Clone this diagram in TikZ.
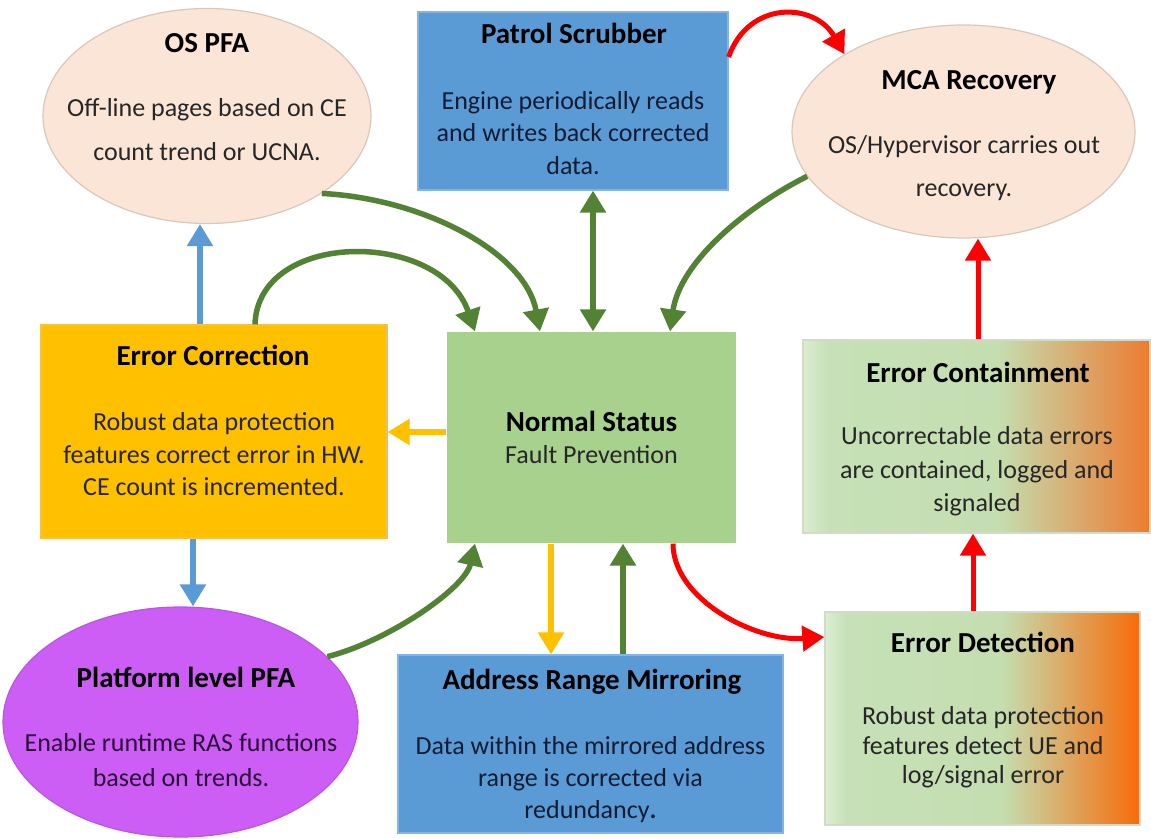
\documentclass[tikz,border=0pt]{standalone}
\usepackage{fontspec}
\setmainfont{Carlito}
\usetikzlibrary{shapes.geometric,arrows.meta}
\definecolor{peach}{HTML}{FBE5D6}
\definecolor{peachline}{HTML}{D8C8BB}
\definecolor{boxblue}{HTML}{5B9BD5}
\definecolor{boxblueline}{HTML}{86B4E2}
\definecolor{boxgold}{HTML}{FFC000}
\definecolor{boxgoldline}{HTML}{F0C050}
\definecolor{boxgreen}{HTML}{A9D18E}
\definecolor{pfaviolet}{HTML}{CC5EF5}
\definecolor{pfavioletline}{HTML}{B955E0}
\definecolor{arrgreen}{HTML}{548235}
\definecolor{arrred}{HTML}{FF0000}
\definecolor{arrblue}{HTML}{5B9BD5}
\definecolor{arrgold}{HTML}{FFC000}
\definecolor{bodytext}{HTML}{262626}
\definecolor{navytext}{HTML}{101C33}
\definecolor{purpletext}{HTML}{2A0A38}
\definecolor{gradline}{HTML}{D0DCC8}
\pgfdeclarehorizontalshading{contshade}{100bp}{rgb(0bp)=(0.86,0.93,0.82); rgb(25bp)=(0.86,0.93,0.82); rgb(28.5bp)=(0.78,0.88,0.72); rgb(53bp)=(0.77,0.87,0.69); rgb(75bp)=(0.93,0.48,0.19); rgb(100bp)=(0.93,0.48,0.19)}
\pgfdeclarehorizontalshading{detshade}{100bp}{rgb(0bp)=(0.86,0.93,0.82); rgb(25bp)=(0.86,0.93,0.82); rgb(28.5bp)=(0.78,0.88,0.72); rgb(53bp)=(0.77,0.87,0.69); rgb(75bp)=(0.97,0.42,0.04); rgb(100bp)=(0.97,0.42,0.04)}
\tikzset{
  ellnode/.style={ellipse, inner sep=0pt, line width=0.6pt},
  boxnode/.style={rectangle, inner sep=0pt, line width=0.6pt},
  ttl/.style={font=\bfseries\fontsize{14.5}{17}\selectfont, text=black, inner sep=0pt},
  bdy/.style={align=center, inner sep=0pt, text=bodytext},
  tipA/.tip={Triangle[width=12.5pt,length=11pt]},
  conn/.style={line width=2.75pt, -tipA},
  greenarr/.style={conn, draw=arrgreen},
  redarr/.style={conn, draw=arrred, line width=2.5pt},
  bluearr/.style={conn, draw=arrblue},
  goldarr/.style={conn, draw=arrgold},
}
\begin{document}
\begin{tikzpicture}[x=0.5pt,y=-0.5pt]
\useasboundingbox (0,0) rectangle (1151,839);
\fill[white] (0,0) rectangle (1151,839);

% shapes
\node[ellnode, fill=peach, draw=peachline, minimum width=164pt, minimum height=107.5pt] (ospfa) at (207,116) {};
\node[boxnode, fill=boxblue, draw=boxblueline, minimum width=155pt, minimum height=89pt] (ps) at (573,101) {};
\node[ellnode, fill=peach, draw=peachline, minimum width=171.5pt, minimum height=106.5pt] (mca) at (963.5,131.5) {};
\node[boxnode, fill=boxgold, draw=boxgoldline, minimum width=173pt, minimum height=106.5pt] (ec) at (214,431.5) {};
\node[boxnode, fill=boxgreen, minimum width=144.5pt, minimum height=105.5pt] (ns) at (591.5,437.5) {};
\node[boxnode, shading=contshade, draw=gradline, minimum width=173.5pt, minimum height=96.5pt] (econt) at (976.5,436.5) {};
\node[boxnode, shading=detshade, draw=gradline, minimum width=157.5pt, minimum height=106.5pt] (ed) at (982.5,718.5) {};
\node[ellnode, fill=pfaviolet, draw=pfavioletline, minimum width=177.5pt, minimum height=115pt] (pfa) at (180.5,722) {};
\node[boxnode, fill=boxblue, draw=boxblueline, minimum width=192.5pt, minimum height=89pt] (arm) at (590.5,744) {};

% texts
\node[ttl] (ospfa-t) at (207,43) {OS PFA};
\node[bdy, font=\fontsize{13}{22}\selectfont] (ospfa-b) at (207,130) {Off-line pages based on CE\\count trend or UCNA.};

\node[ttl] (ps-t) at (574,33) {Patrol Scrubber};
\node[bdy, text=navytext, font=\fontsize{13}{16.25}\selectfont] (ps-b) at (573,133) {Engine periodically reads\\and writes back corrected\\data.};

\node[ttl] (mca-t) at (969,82) {MCA Recovery};
\node[bdy, font=\fontsize{13}{21.5}\selectfont] (mca-b) at (964,168.5) {OS/Hypervisor carries out\\recovery.};

\node[ttl] (ec-t) at (213,355) {Error Correction};
\node[bdy, font=\fontsize{13}{16.25}\selectfont] (ec-b) at (214,454.5) {Robust data protection\\features correct error in HW.\\CE count is incremented.};

\node[ttl] (ns-t) at (591.5,421) {Normal Status};
\node[bdy, font=\fontsize{13}{16}\selectfont] (ns-b) at (591.5,455) {Fault Prevention};

\node[ttl] (econt-t) at (978,372) {Error Containment};
\node[bdy, font=\fontsize{13}{16.75}\selectfont] (econt-b) at (977,471.5) {Uncorrectable data errors\\are contained, logged and\\signaled};

\node[ttl] (ed-t) at (983,642) {Error Detection};
\node[bdy, font=\fontsize{13}{14.75}\selectfont] (ed-b) at (983,747.5) {Robust data protection\\features detect UE and\\log/signal error};

\node[ttl] (pfa-t) at (186,677) {Platform level PFA};
\node[bdy, text=purpletext, font=\fontsize{13}{17.5}\selectfont] (pfa-b) at (181,760.5) {Enable runtime RAS functions\\based on trends.};

\node[ttl] (arm-t) at (592,682) {Address Range Mirroring};
\node[bdy, text=navytext, font=\fontsize{13}{16}\selectfont] (arm-b) at (590.5,780) {Data within the mirrored address\\range is corrected via\\redundancy\textbf{.}};

% connectors
\draw[bluearr] ([xshift=-7pt]ec.north) -- ([xshift=-7pt]ec.north |- ospfa.south);
\draw[bluearr] ([xshift=-10.5pt]ec.south) -- ([xshift=-10.5pt]ec.south |- pfa.north);

\draw[greenarr] (ospfa.-34) .. controls +(100,5) and +(-15,-80) .. ([xshift=-25.75pt]ns.north);
\draw[greenarr] ([xshift=20.5pt]ec.north) .. controls +(3,-95) and +(-35,-102) .. ([xshift=-58.25pt]ns.north);
\draw[greenarr, tipA-tipA] ([xshift=10pt]ps.south) -- ([xshift=10pt]ps.south |- ns.north);
\draw[greenarr] (mca.196) .. controls +(-60,30) and +(10,-70) .. ([xshift=39.25pt]ns.north);
\draw[greenarr] (pfa.24) .. controls +(60,-15) and +(-10,45) .. ([xshift=-58.25pt]ns.south);
\draw[greenarr] ([xshift=16.25pt]arm.north) -- ([xshift=16.25pt]arm.north |- ns.south);

\draw[goldarr] ([yshift=2.75pt]ns.west) -- ([yshift=2.75pt]ns.west -| ec.east);
\draw[goldarr] ([xshift=-20.25pt]ns.south) -- ([xshift=-20.25pt]ns.south |- arm.north);

\draw[redarr] ([xshift=40.75pt]ns.south) .. controls +(0,55) and +(-70,5) .. ([yshift=40.75pt]ed.west);
\draw[redarr] ([xshift=-4.75pt]ed.north) -- ([xshift=-4.75pt]ed.north |- econt.south);
\draw[redarr] ([xshift=0.75pt]econt.north) -- ([xshift=0.75pt]econt.north |- mca.south);
\draw[redarr] ([yshift=22pt]ps.east) .. controls +(20,-57) and +(-30,-52) .. (mca.147);
\end{tikzpicture}
\end{document}
